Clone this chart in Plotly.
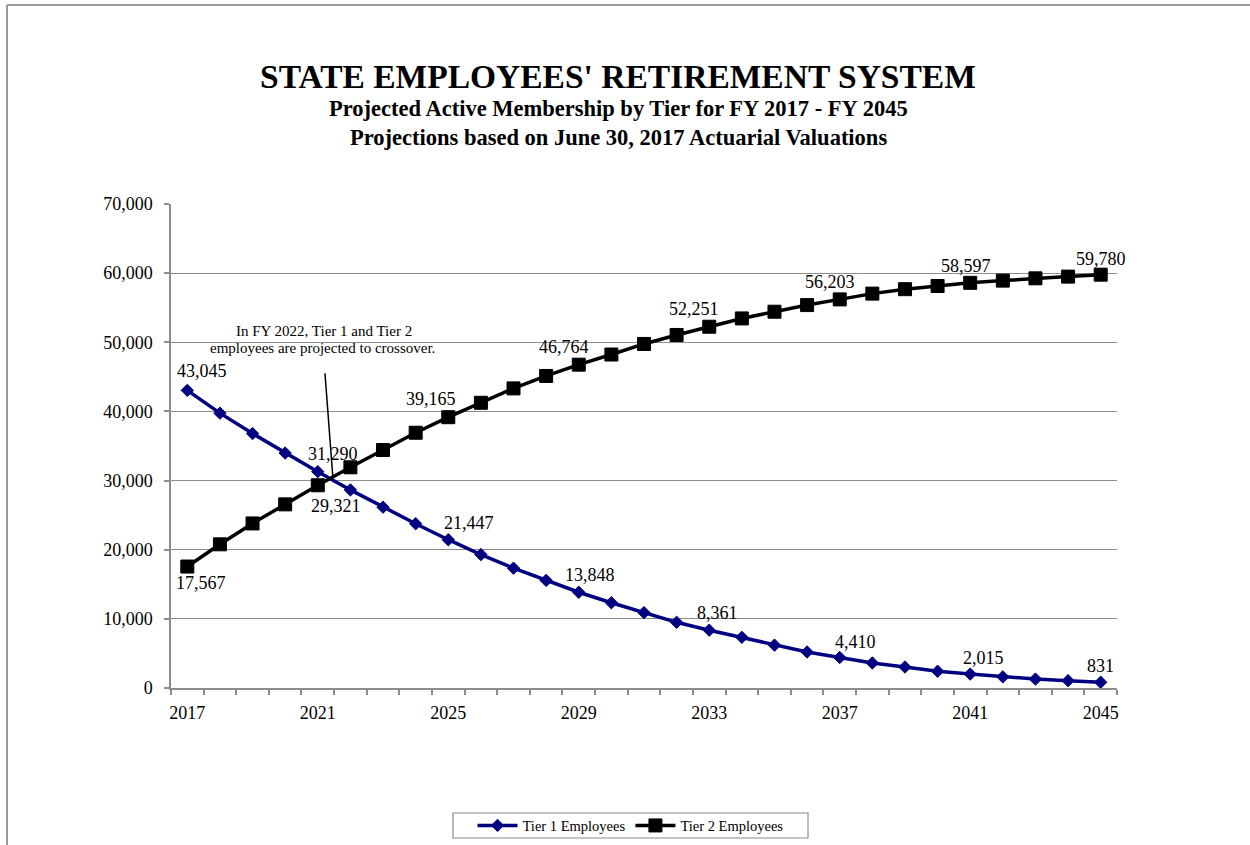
import plotly.graph_objects as go

# Fiscal years of the projection
years = list(range(2017, 2046))

# Projected active members, Tier 1
tier1 = [43045, 39750, 36800, 33980, 31290, 28650, 26150, 23760, 21447, 19300,
         17330, 15560, 13848, 12330, 10900, 9500, 8361, 7330, 6200, 5210,
         4410, 3620, 3030, 2420, 2015, 1610, 1290, 1060, 831]

# Projected active members, Tier 2
tier2 = [17567, 20780, 23800, 26560, 29321, 31920, 34420, 36920, 39165, 41250,
         43330, 45130, 46764, 48230, 49760, 51060, 52251, 53450, 54420, 55380,
         56203, 57040, 57680, 58140, 58597, 58920, 59250, 59500, 59780]

# Years whose values are written on the chart
labelled_years = [2017, 2021, 2025, 2029, 2033, 2037, 2041, 2045]

axis_ticks = [2017, 2021, 2025, 2029, 2033, 2037, 2041, 2045]

FONT = "Liberation Serif, Times New Roman, serif"
NAVY = "#000080"
GRID = "#8c8c8c"

fig = go.Figure()
fig.add_trace(go.Scatter(
    x=years, y=tier1, name="Tier 1 Employees", mode="lines+markers",
    line=dict(color=NAVY, width=3.5),
    marker=dict(symbol="diamond", size=9.5, color=NAVY, line=dict(color=NAVY, width=1)),
))
fig.add_trace(go.Scatter(
    x=years, y=tier2, name="Tier 2 Employees", mode="lines+markers",
    line=dict(color="black", width=3.5),
    marker=dict(symbol="square", size=13, color="black", line=dict(color="black", width=1)),
))

# Label placement (pixel shifts from each point)
t1_shift = {2017: (15, 19), 2021: (15, 18), 2025: (21, 17), 2029: (11, 17),
            2033: (8, 17), 2037: (16, 16), 2041: (13, 16), 2045: (0, 16)}
t2_shift = {2017: (14, -16), 2021: (18, -21), 2025: (-17, 18), 2029: (-15, 18),
            2033: (-15, 18), 2037: (-10, 17), 2041: (-4, 17), 2045: (0, 16)}

annotations = []
for yr in labelled_years:
    i = years.index(yr)
    for series, shifts in ((tier1, t1_shift), (tier2, t2_shift)):
        dx, dy = shifts[yr]
        annotations.append(dict(
            x=yr, y=series[i], xref="x", yref="y", text=f"{series[i]:,}",
            showarrow=False, xshift=dx, yshift=dy,
            xanchor="center", yanchor="middle",
            font=dict(family=FONT, size=18, color="black"),
        ))

# Titles
title_lines = [
    ("<b>STATE EMPLOYEES' RETIREMENT SYSTEM</b>", 33.5, 77),
    ("<b>Projected Active Membership by Tier for FY 2017 - FY 2045</b>", 22.5, 108.5),
    ("<b>Projections based on June 30, 2017 Actuarial Valuations</b>", 22.5, 137.5),
]
for text, size, ypx in title_lines:
    annotations.append(dict(
        x=(618 - 171) / 946, y=(688 - ypx) / 484, xref="paper", yref="paper",
        xanchor="center", yanchor="middle", showarrow=False, text=text,
        font=dict(family=FONT, size=size, color="black"),
    ))

# Crossover note
note_lines = [("In FY 2022, Tier 1 and Tier 2", 2021.175, 51680),
              ("employees are projected to crossover.", 2021.14, 49220)]
for text, xv, yv in note_lines:
    annotations.append(dict(
        x=xv, y=yv, xref="x", yref="y", showarrow=False, text=text,
        xanchor="center", yanchor="middle",
        font=dict(family=FONT, size=15, color="black"),
    ))

# page frame along the top and left edges, running off the page edges
fx0, fx1 = (7 - 171) / 946, (1262 - 171) / 946
fy_top, fy_bot = (688 - 5) / 484, (688 - 857) / 484

shapes = [
    # pointer to the crossover
    dict(type="line", xref="x", yref="y", x0=2021.22, y0=45500, x1=2021.46, y1=30560,
         line=dict(color="black", width=1.5)),
    dict(type="line", xref="paper", yref="paper", x0=fx0, x1=fx1, y0=fy_top, y1=fy_top,
         line=dict(color="#999999", width=2)),
    dict(type="line", xref="paper", yref="paper", x0=fx0, x1=fx0, y0=fy_top, y1=fy_bot,
         line=dict(color="#999999", width=2)),
    # legend frame
    dict(type="rect", xref="paper", yref="paper",
         x0=(453 - 171) / 946, x1=(808 - 171) / 946,
         y0=(688 - 813) / 484, y1=(688 - 838) / 484,
         line=dict(color=GRID, width=1.2), fillcolor="rgba(0,0,0,0)"),
]

fig.update_layout(
    width=1250, height=845,
    margin=dict(l=171, r=133, t=204, b=157, autoexpand=False),
    paper_bgcolor="white", plot_bgcolor="white",
    font=dict(family=FONT, color="black"),
    showlegend=True,
    legend=dict(
        orientation="h", x=(630.5 - 171) / 946, xanchor="center",
        y=(688 - 825.5) / 484, yanchor="middle",
        borderwidth=0, bgcolor="rgba(0,0,0,0)",
        font=dict(family=FONT, size=14.5, color="black"),
        itemwidth=40,
    ),
    annotations=annotations,
    shapes=shapes,
)

fig.update_xaxes(
    range=[2016.5, 2045.5], tickmode="array", tickvals=axis_ticks,
    ticktext=[str(t) for t in axis_ticks], ticks="",
    tickfont=dict(family=FONT, size=18, color="black"),
    ticklabelstandoff=8,
    showgrid=False, zeroline=False,
    showline=True, linecolor=GRID, linewidth=1.5,
    minor=dict(tickmode="linear", tick0=2016.5, dtick=1, ticks="outside",
               ticklen=5, tickcolor=GRID, tickwidth=1.5, showgrid=False),
)
fig.update_yaxes(
    range=[0, 70000], tickmode="linear", tick0=0, dtick=10000, tickformat=",",
    tickfont=dict(family=FONT, size=18, color="black"),
    ticklabelstandoff=8,
    showgrid=True, gridcolor=GRID, gridwidth=1.2, zeroline=False,
    showline=True, linecolor=GRID, linewidth=1.5,
    ticks="outside", ticklen=5, tickcolor=GRID, tickwidth=1.5,
)

fig.write_html("out.html")
